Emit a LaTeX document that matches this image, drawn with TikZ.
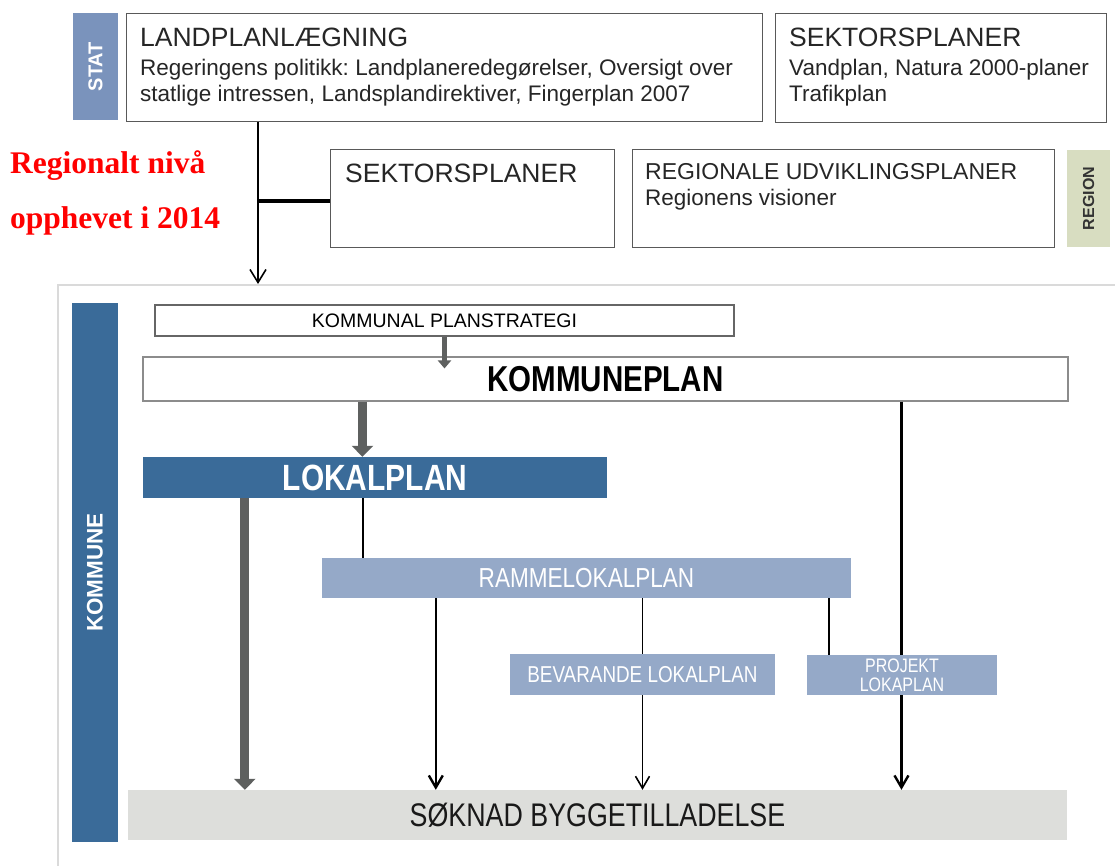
\documentclass[tikz,border=0pt]{standalone}
\usepackage{fontspec}
\setmainfont{Liberation Sans}
\newfontfamily\narrowfont{Liberation Sans}[FakeStretch=0.82]
\newfontfamily\notefont{Liberation Serif}
\usepackage{xcolor}
\usepackage{tikz}
\usetikzlibrary{arrows.meta, positioning}
\frenchspacing
\definecolor{statblue}{HTML}{7A93BC}
\definecolor{kommblue}{HTML}{3A6B99}
\definecolor{paleblue}{HTML}{95A9C8}
\definecolor{regionolive}{HTML}{D8DDC1}
\definecolor{soknadgray}{HTML}{DDDEDB}
\definecolor{arrowgray}{HTML}{5E605F}
\definecolor{framegray}{HTML}{DADADA}
\tikzstyle{planbox} = [rectangle, draw=black!65, line width=1.3pt, fill=white, inner sep=0pt, anchor=north west]
\tikzstyle{heading} = [anchor=base west, inner sep=0pt, text=black!85, font=\fontsize{26.5}{30}\selectfont]
\tikzstyle{body} = [anchor=base west, inner sep=0pt, align=left, text=black!85, font=\fontsize{22.5}{26}\selectfont]
\tikzstyle{sidebar} = [rectangle, inner sep=0pt, rotate=90, font=\bfseries]
\tikzstyle{kbox} = [rectangle, inner sep=0pt, text centered]
\tikzstyle{fatarrow} = [draw=arrowgray, line width=9pt, -{Triangle[width=21pt, length=11pt]}]
\tikzstyle{thinarrow} = [line width=1.6pt, -{Straight Barb[width=14pt, length=12pt]}]
\tikzstyle{midarrow} = [line width=2.4pt, -{Straight Barb[width=14pt, length=12pt]}]

\begin{document}
\begin{tikzpicture}[x=1pt, y=-1pt]
		\useasboundingbox (0,0) rectangle (1115,865);
		\clip (0,0) rectangle (1115,865);
		% state level
		\node (Stat)[sidebar, fill=statblue, text=white, minimum width=107pt, minimum height=45pt] at (95.5,66.5) {\fontsize{20}{20}\selectfont STAT};
		\node (Landplan)[planbox, minimum width=636pt, minimum height=108pt] at (126,13) {};
		\node (LandplanHead)[heading] at ([shift={(14,33)}]Landplan.north west) {LANDPLANLÆGNING};
		\node (LandplanText)[body] at ([shift={(14,88)}]Landplan.north west) {Regeringens politikk: Landplaneredegørelser, Oversigt over\\statlige intressen, Landsplandirektiver, Fingerplan 2007};
		\node (SektorStat)[planbox, minimum width=331pt, minimum height=109pt] at (775,13) {};
		\node (SektorStatHead)[heading] at ([shift={(14,33)}]SektorStat.north west) {SEKTORSPLANER};
		\node (SektorStatText)[body] at ([shift={(14,88)}]SektorStat.north west) {Vandplan, Natura 2000-planer\\Trafikplan};
		% region level
		\node (SektorRegion)[planbox, minimum width=284pt, minimum height=98pt] at (330,149) {};
		\node (SektorRegionHead)[heading] at ([shift={(15,33)}]SektorRegion.north west) {SEKTORSPLANER};
		\node (Regional)[planbox, minimum width=422pt, minimum height=98pt] at (632,149) {};
		\node (RegionalHead)[heading, font=\fontsize{23}{26}\selectfont] at ([shift={(13,30)}]Regional.north west) {REGIONALE UDVIKLINGSPLANER};
		\node (RegionalText)[body] at ([shift={(13,56)}]Regional.north west) {Regionens visioner};
		\node (Region)[sidebar, fill=regionolive, text=black!80, minimum width=97pt, minimum height=43pt] at (1088.5,198.5) {\fontsize{16}{16}\selectfont REGION};
		\node (NoteTop)[anchor=base west, inner sep=0pt, text=red, font=\notefont\bfseries\fontsize{31.5}{32}\selectfont] at (10,173) {Regionalt nivå};
		\node (NoteBottom)[anchor=base west, inner sep=0pt, text=red, font=\notefont\bfseries\fontsize{31.5}{32}\selectfont] at (10,228) {opphevet i 2014};
		% municipal level
		\node (Frame)[draw=framegray, line width=2pt, inner sep=0pt, anchor=north west, minimum width=1200pt, minimum height=700pt] at (57,284) {};
		\node (Kommune)[sidebar, fill=kommblue, text=white, minimum width=539pt, minimum height=46pt] at (95,572.5) {\fontsize{22.5}{22}\selectfont KOMMUNE};
		\node (Strategi)[kbox, draw=black!60, line width=1.1pt, minimum width=579pt, minimum height=31pt, font=\fontsize{19.5}{20}\selectfont] at (444.5,320.5) {KOMMUNAL PLANSTRATEGI};
		\node (Kommuneplan)[kbox, draw=black!45, line width=1.1pt, minimum width=925pt, minimum height=44pt, font=\narrowfont\bfseries\fontsize{36}{36}\selectfont] at (605.5,379) {KOMMUNEPLAN};
		\node (Lokalplan)[kbox, fill=kommblue, text=white, minimum width=464pt, minimum height=41pt, font=\narrowfont\bfseries\fontsize{36.5}{36}\selectfont] at (375,477.5) {LOKALPLAN};
		\node (Ramme)[kbox, fill=paleblue, text=white, minimum width=529pt, minimum height=40pt, font=\narrowfont\fontsize{27.5}{27}\selectfont] at (586.5,578) {RAMMELOKALPLAN};
		\node (Bevarande)[kbox, fill=paleblue, text=white, minimum width=265pt, minimum height=41pt, font=\narrowfont\fontsize{23}{23}\selectfont] at (642.5,674.5) {BEVARANDE LOKALPLAN};
		\node (Soknad)[kbox, fill=soknadgray, text=black!90, minimum width=939pt, minimum height=50pt, font=\narrowfont\fontsize{32.7}{32}\selectfont] at (597.5,815) {SØKNAD BYGGETILLADELSE};
		\draw [midarrow] ([xshift=759]Kommuneplan.south west) coordinate (Direct) -- (Direct |- Soknad.north);
		\node (Projekt)[kbox, fill=paleblue, text=white, minimum width=190pt, minimum height=40pt, align=center, font=\narrowfont\fontsize{19.5}{19}\selectfont] at (902,675) {PROJEKT\\LOKAPLAN};
		% connectors
		\draw [line width=1.6pt, -{Straight Barb[width=16pt, length=13pt]}] ([xshift=132]Landplan.south west) coordinate (Drop) -- (Drop |- Frame.north);
		\draw [line width=4pt] ([yshift=-2]SektorRegion.west) -- ([yshift=-2]SektorRegion.west -| Drop);
		\draw [draw=arrowgray, line width=5pt, -{Triangle[width=13pt, length=8pt]}] (Strategi.south) -- ([yshift=-12]Kommuneplan.north -| Strategi.south);
		\draw [fatarrow] ([xshift=220]Kommuneplan.south west) coordinate (Down) -- (Down |- Lokalplan.north);
		\draw [fatarrow] ([xshift=102]Lokalplan.south west) coordinate (Left) -- (Left |- Soknad.north);
		\draw [line width=2.4pt] ([xshift=220]Lokalplan.south west) coordinate (Link) -- (Link |- Ramme.north);
		\draw [midarrow] ([xshift=114]Ramme.south west) coordinate (Frame2) -- (Frame2 |- Soknad.north);
		\draw [line width=1.6pt] (Bevarande.north) -- (Bevarande.north |- Ramme.south);
		\draw [thinarrow] (Bevarande.south) -- (Bevarande.south |- Soknad.north);
		\draw [line width=2.4pt] ([xshift=22]Projekt.north west) coordinate (Side) -- (Side |- Ramme.south);
	\end{tikzpicture}
\end{document}
